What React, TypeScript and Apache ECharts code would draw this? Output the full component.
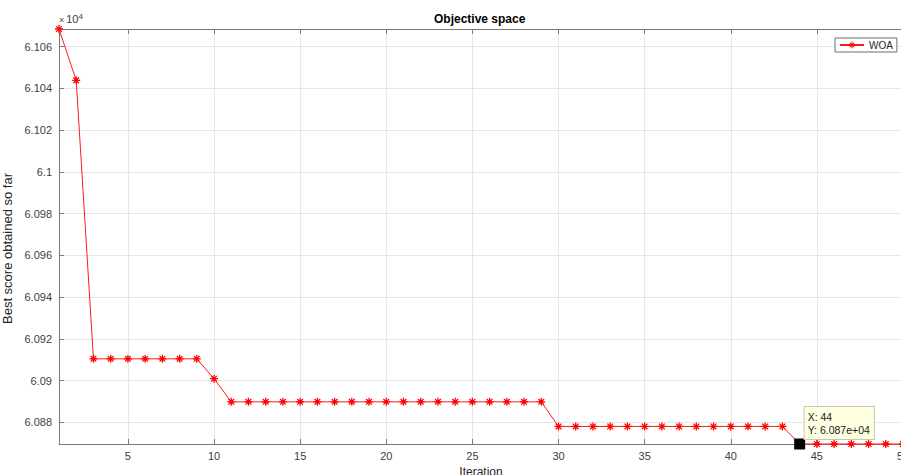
import React, { useEffect, useRef } from "react";
import * as echarts from "echarts";

// Iteration numbers (x) and best score obtained so far (y)
const iterations = [
  1, 2, 3, 4, 5, 6, 7, 8, 9, 10,
  11, 12, 13, 14, 15, 16, 17, 18, 19, 20,
  21, 22, 23, 24, 25, 26, 27, 28, 29, 30,
  31, 32, 33, 34, 35, 36, 37, 38, 39, 40,
  41, 42, 43, 44, 45, 46, 47, 48, 49, 50,
];
const bestScore = [
  61068.5, 61043.9, 60910.5, 60910.5, 60910.5, 60910.5, 60910.5, 60910.5, 60910.5, 60901.0,
  60889.9, 60889.9, 60889.9, 60889.9, 60889.9, 60889.9, 60889.9, 60889.9, 60889.9, 60889.9,
  60889.9, 60889.9, 60889.9, 60889.9, 60889.9, 60889.9, 60889.9, 60889.9, 60889.9, 60878.1,
  60878.1, 60878.1, 60878.1, 60878.1, 60878.1, 60878.1, 60878.1, 60878.1, 60878.1, 60878.1,
  60878.1, 60878.1, 60878.1, 60869.7, 60869.7, 60869.7, 60869.7, 60869.7, 60869.7, 60869.7,
];
const seriesName = "WOA";
const xRange = [1, 50];
const yRange = [60869.7, 61068.5];
const xStep = 5;
const yStep = 20;
const tipIteration = 44;
const tipLabel = ["X: 44", "Y: 6.087e+04"];

const FONT = "'Liberation Sans', Arial, Helvetica, sans-serif";
const ASTERISK =
  "path://M0 4.2 L10 4.2 L10 5.8 L0 5.8 Z M4.2 0 L5.8 0 L5.8 10 L4.2 10 Z M0.9 2.0 L2.0 0.9 L9.1 8.0 L8.0 9.1 Z M8.0 0.9 L9.1 2.0 L2.0 9.1 L0.9 8.0 Z";

export default function App() {
  const ref = useRef<HTMLDivElement>(null);
  useEffect(() => {
    if (!ref.current) return;
    const chart = echarts.init(ref.current, null, { renderer: "svg" });
    const data = iterations.map((it, i) => [it, bestScore[i]]);
    const tipIdx = iterations.indexOf(tipIteration);
    const axisGrey = "#7a7a7a";
    const labelColor = "#404040";
    chart.setOption({
      animation: false,
      textStyle: { fontFamily: FONT },
      title: {
        text: "Objective space",
        left: 434,
        top: 13,
        padding: 0,
        textStyle: { fontSize: 12, fontWeight: "bold", color: "#000", fontFamily: FONT },
      },
      legend: {
        left: 835,
        top: 38,
        orient: "horizontal",
        padding: [2, 4, 2, 4],
        borderColor: "#6e6e6e",
        borderWidth: 1,
        backgroundColor: "#fff",
        itemWidth: 24,
        itemHeight: 8,
        itemGap: 0,
        textStyle: { fontSize: 10, color: "#262626", fontFamily: FONT },
        data: [seriesName],
      },
      grid: {
        left: 59,
        top: 29,
        right: -2,
        bottom: 31,
        containLabel: false,
        outerBoundsMode: "none",
      },
      xAxis: [
        {
          type: "value",
          min: xRange[0],
          max: xRange[1],
          minInterval: xStep,
          maxInterval: xStep,
          splitNumber: 10,
          name: "Iteration",
          nameLocation: "middle",
          nameGap: 18,
          nameTextStyle: { fontSize: 12, color: "#262626", fontFamily: FONT },
          axisLine: { lineStyle: { color: axisGrey, width: 1 } },
          axisTick: { inside: true, length: 5, lineStyle: { color: axisGrey } },
          axisLabel: {
            margin: 6,
            fontSize: 11,
            color: labelColor,
            showMinLabel: false,
            hideOverlap: false,
            formatter: (v: number) => (v % xStep === 0 ? String(v) : ""),
          },
          splitLine: { show: true, lineStyle: { color: "#e6e6e6", width: 1 } },
        },
        {
          type: "value",
          position: "top",
          min: xRange[0],
          max: xRange[1],
          minInterval: xStep,
          maxInterval: xStep,
          splitNumber: 10,
          axisLine: { show: true, lineStyle: { color: axisGrey, width: 1 } },
          axisTick: { show: true, inside: true, length: 5, lineStyle: { color: axisGrey } },
          axisLabel: { show: false },
          splitLine: { show: false },
        },
      ],
      yAxis: [
        {
          type: "value",
          min: yRange[0],
          max: yRange[1],
          minInterval: yStep,
          maxInterval: yStep,
          splitNumber: 10,
          name: "Best score obtained so far",
          nameLocation: "middle",
          nameGap: 42,
          nameTextStyle: {
            fontSize: 13,
            color: "#262626",
            fontFamily: FONT,
            padding: [0, 24, 0, 0],
          },
          axisLine: { show: true, lineStyle: { color: axisGrey, width: 1 } },
          axisTick: { show: true, inside: true, length: 5, lineStyle: { color: axisGrey } },
          axisLabel: {
            margin: 7,
            fontSize: 11,
            color: labelColor,
            showMinLabel: false,
            showMaxLabel: false,
            hideOverlap: false,
            formatter: (v: number) =>
              Math.abs(v % yStep) < 1e-6 ? String(parseFloat((v / 1e4).toFixed(4))) : "",
          },
          splitLine: { show: true, lineStyle: { color: "#e6e6e6", width: 1 } },
        },
        {
          type: "value",
          position: "left",
          min: yRange[0],
          max: yRange[1],
          name: "{x|×}{t|10}{s|4}",
          nameLocation: "end",
          nameGap: 5,
          nameTextStyle: {
            align: "left",
            verticalAlign: "bottom",
            color: labelColor,
            rich: {
              x: { fontSize: 9, color: labelColor, fontFamily: FONT, verticalAlign: "bottom", lineHeight: 12 },
              t: { fontSize: 11, color: labelColor, fontFamily: FONT, verticalAlign: "bottom", lineHeight: 12, padding: [0, 0, 0, 2] },
              s: { fontSize: 8, color: labelColor, fontFamily: FONT, verticalAlign: "top", lineHeight: 8 },
            },
          },
          axisLine: { show: false },
          axisTick: { show: false },
          axisLabel: { show: false },
          splitLine: { show: false },
        },
      ],
      series: [
        {
          name: seriesName,
          type: "line",
          xAxisIndex: 0,
          yAxisIndex: 0,
          data,
          clip: false,
          symbol: ASTERISK,
          symbolSize: 8,
          showAllSymbol: true,
          lineStyle: { color: "#ff1a1a", width: 1 },
          itemStyle: { color: "#ff0000" },
          emphasis: { disabled: true },
          markPoint: {
            silent: true,
            data: [
              {
                coord: [iterations[tipIdx], bestScore[tipIdx]],
                symbol: "rect",
                symbolSize: 9,
                itemStyle: { color: "#000", borderColor: "#000" },
                label: {
                  show: true,
                  position: [10.5, -31.5],
                  align: "left",
                  verticalAlign: "top",
                  formatter: tipLabel.join("\n"),
                  fontSize: 10.5,
                  lineHeight: 13,
                  color: "#222",
                  fontFamily: FONT,
                  backgroundColor: "#ffffe1",
                  borderColor: "#c8c8b4",
                  borderWidth: 1,
                  padding: [3, 4, 3, 3],
                },
              },
            ],
          },
        },
      ],
    });
    return () => chart.dispose();
  }, []);
  return (
    <div
      ref={ref}
      style={{ position: "fixed", left: 0, top: 0, width: 901, height: 475, background: "#fff" }}
    />
  );
}
